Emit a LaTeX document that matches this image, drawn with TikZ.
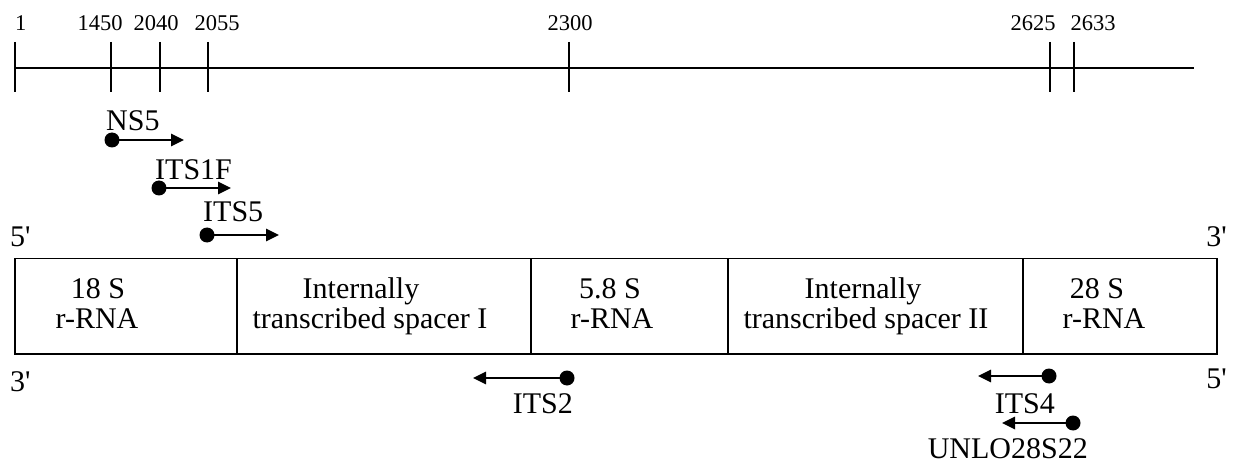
\documentclass[tikz,border=0pt]{standalone}
\usepackage{fontspec}
\setmainfont{Liberation Serif}
\usetikzlibrary{arrows.meta}
\begin{document}
\begin{tikzpicture}[x=1pt,y=1pt,
  num/.style={inner sep=0pt,anchor=base,font=\fontsize{22.5}{22.5}\selectfont},
  lab/.style={inner sep=0pt,font=\fontsize{30}{30}\selectfont},
  boxtxt/.style={inner sep=0pt,align=center,font=\fontsize{30}{30}\selectfont},
  ruler/.style={line width=2pt},
  tick/.style={line width=2pt},
  seg/.style={draw,line width=1.6pt,rectangle,inner sep=0pt,minimum height=95.5pt,anchor=north west},
  dotnode/.style={circle,fill=black,inner sep=0pt,minimum size=15pt},
  primer/.style={line width=1.8pt,-{Triangle[length=13pt,width=12.5pt]}}]
\useasboundingbox (0,0) rectangle (1242,-465);
% ruler
\coordinate (r0) at (15,-67.7);
\coordinate (r1) at (1194,-67.7);
\draw[ruler] (r0) -- (r1);
\foreach \x/\nm in {15/t1,110.7/t1450,160/t2040,208/t2055,569/t2300,1050/t2625,1074/t2633}{
  \coordinate (\nm a) at (\x,-42);
  \coordinate (\nm b) at (\x,-92);
  \draw[tick] (\nm a) -- (\nm b);
}
\node[num,anchor=base west] (n1) at (15,-31) {1};
\node[num] (n1450) at (100,-31) {1450};
\node[num] (n2040) at (156,-31) {2040};
\node[num] (n2055) at (217,-31) {2055};
\node[num] (n2300) at (570,-31) {2300};
\node[num] (n2625) at (1033,-31) {2625};
\node[num] (n2633) at (1093,-31) {2633};
% forward primers
\node[dotnode] (ns5) at (112,-140) {};
\coordinate (ns5e) at (184,-140);
\draw[primer] (ns5.center) -- (ns5e);
\node[lab,anchor=base west] (ns5l) at (106,-131) {NS5};
\node[dotnode] (its1f) at (159,-188) {};
\coordinate (its1fe) at (231,-188);
\draw[primer] (its1f.center) -- (its1fe);
\node[lab,anchor=base west] (its1fl) at (155,-180) {ITS1F};
\node[dotnode] (its5) at (207,-235) {};
\coordinate (its5e) at (279,-235);
\draw[primer] (its5.center) -- (its5e);
\node[lab,anchor=base west] (its5l) at (203,-222) {ITS5};
% strand labels
\node[lab,anchor=base west] (p5a) at (10,-247) {5\textquotesingle};
\node[lab,anchor=base east] (p3a) at (1227,-246) {3\textquotesingle};
\node[lab,anchor=base west] (p3b) at (10,-391) {3\textquotesingle};
\node[lab,anchor=base east] (p5b) at (1227,-388) {5\textquotesingle};
% gene box
\node[seg,minimum width=222pt] (s18) at (14,-257.5) {};
\node[seg,minimum width=294pt] (its1) at (236,-257.5) {};
\node[seg,minimum width=197pt] (s58) at (530,-257.5) {};
\node[seg,minimum width=295pt] (its2) at (727,-257.5) {};
\node[seg,minimum width=194pt] (s28) at (1022,-257.5) {};
\node[boxtxt,anchor=base] (t18a) at (98,-298) {18 S};
\node[boxtxt,anchor=base] (t18b) at (97,-328) {r-RNA};
\node[boxtxt,anchor=base] (ti1a) at (361,-298) {Internally};
\node[boxtxt,anchor=base] (ti1b) at (370,-328) {transcribed spacer I};
\node[boxtxt,anchor=base] (t58a) at (610,-298) {5.8 S};
\node[boxtxt,anchor=base] (t58b) at (612,-328) {r-RNA};
\node[boxtxt,anchor=base] (ti2a) at (863,-298) {Internally};
\node[boxtxt,anchor=base] (ti2b) at (866,-328) {transcribed spacer II};
\node[boxtxt,anchor=base] (t28a) at (1097,-298) {28 S};
\node[boxtxt,anchor=base] (t28b) at (1104,-328) {r-RNA};
% reverse primers
\node[dotnode] (its2p) at (567,-378) {};
\coordinate (its2e) at (473,-378);
\draw[primer] (its2p.center) -- (its2e);
\node[lab,anchor=base east] (its2l) at (573,-413) {ITS2};
\node[dotnode] (its4) at (1049,-376) {};
\coordinate (its4e) at (978,-376);
\draw[primer] (its4.center) -- (its4e);
\node[lab,anchor=base east] (its4l) at (1055,-413) {ITS4};
\node[dotnode] (unlo) at (1073,-423) {};
\coordinate (unloe) at (1002,-423);
\draw[primer] (unlo.center) -- (unloe);
\node[lab,anchor=base east] (unlol) at (1088,-458) {UNLO28S22};
\end{tikzpicture}
\end{document}
